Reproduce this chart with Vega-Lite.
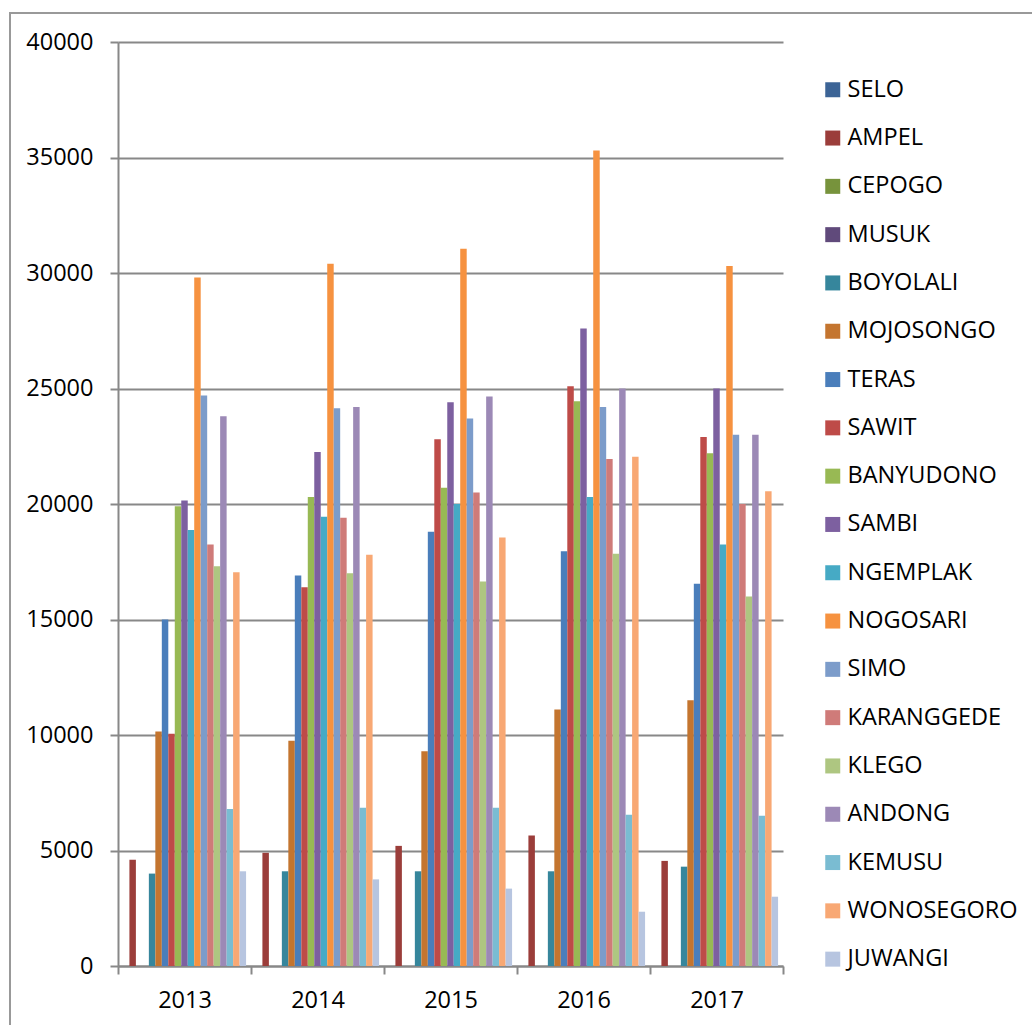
{
  "$schema": "https://vega.github.io/schema/vega-lite/v6.json",
  "autosize": "none",
  "padding": {"left": 10, "top": 13, "right": 0, "bottom": 0},
  "width": 1030,
  "height": 1020,
  "background": "white",
  "config": {
    "view": {"stroke": "#999999", "strokeWidth": 2},
    "font": "Open Sans"
  },
  "data": {
    "values": [
      {"year": "2013", "district": "SELO", "value": 0},
      {"year": "2013", "district": "AMPEL", "value": 4600},
      {"year": "2013", "district": "CEPOGO", "value": 0},
      {"year": "2013", "district": "MUSUK", "value": 0},
      {"year": "2013", "district": "BOYOLALI", "value": 4000},
      {"year": "2013", "district": "MOJOSONGO", "value": 10150},
      {"year": "2013", "district": "TERAS", "value": 15000},
      {"year": "2013", "district": "SAWIT", "value": 10050},
      {"year": "2013", "district": "BANYUDONO", "value": 19900},
      {"year": "2013", "district": "SAMBI", "value": 20150},
      {"year": "2013", "district": "NGEMPLAK", "value": 18870},
      {"year": "2013", "district": "NOGOSARI", "value": 29800},
      {"year": "2013", "district": "SIMO", "value": 24700},
      {"year": "2013", "district": "KARANGGEDE", "value": 18250},
      {"year": "2013", "district": "KLEGO", "value": 17300},
      {"year": "2013", "district": "ANDONG", "value": 23800},
      {"year": "2013", "district": "KEMUSU", "value": 6800},
      {"year": "2013", "district": "WONOSEGORO", "value": 17050},
      {"year": "2013", "district": "JUWANGI", "value": 4100},
      {"year": "2014", "district": "SELO", "value": 0},
      {"year": "2014", "district": "AMPEL", "value": 4900},
      {"year": "2014", "district": "CEPOGO", "value": 0},
      {"year": "2014", "district": "MUSUK", "value": 0},
      {"year": "2014", "district": "BOYOLALI", "value": 4100},
      {"year": "2014", "district": "MOJOSONGO", "value": 9750},
      {"year": "2014", "district": "TERAS", "value": 16900},
      {"year": "2014", "district": "SAWIT", "value": 16400},
      {"year": "2014", "district": "BANYUDONO", "value": 20300},
      {"year": "2014", "district": "SAMBI", "value": 22250},
      {"year": "2014", "district": "NGEMPLAK", "value": 19450},
      {"year": "2014", "district": "NOGOSARI", "value": 30400},
      {"year": "2014", "district": "SIMO", "value": 24150},
      {"year": "2014", "district": "KARANGGEDE", "value": 19400},
      {"year": "2014", "district": "KLEGO", "value": 17000},
      {"year": "2014", "district": "ANDONG", "value": 24200},
      {"year": "2014", "district": "KEMUSU", "value": 6850},
      {"year": "2014", "district": "WONOSEGORO", "value": 17800},
      {"year": "2014", "district": "JUWANGI", "value": 3750},
      {"year": "2015", "district": "SELO", "value": 0},
      {"year": "2015", "district": "AMPEL", "value": 5200},
      {"year": "2015", "district": "CEPOGO", "value": 0},
      {"year": "2015", "district": "MUSUK", "value": 0},
      {"year": "2015", "district": "BOYOLALI", "value": 4100},
      {"year": "2015", "district": "MOJOSONGO", "value": 9300},
      {"year": "2015", "district": "TERAS", "value": 18800},
      {"year": "2015", "district": "SAWIT", "value": 22800},
      {"year": "2015", "district": "BANYUDONO", "value": 20700},
      {"year": "2015", "district": "SAMBI", "value": 24400},
      {"year": "2015", "district": "NGEMPLAK", "value": 20000},
      {"year": "2015", "district": "NOGOSARI", "value": 31050},
      {"year": "2015", "district": "SIMO", "value": 23700},
      {"year": "2015", "district": "KARANGGEDE", "value": 20500},
      {"year": "2015", "district": "KLEGO", "value": 16650},
      {"year": "2015", "district": "ANDONG", "value": 24650},
      {"year": "2015", "district": "KEMUSU", "value": 6850},
      {"year": "2015", "district": "WONOSEGORO", "value": 18550},
      {"year": "2015", "district": "JUWANGI", "value": 3350},
      {"year": "2016", "district": "SELO", "value": 0},
      {"year": "2016", "district": "AMPEL", "value": 5650},
      {"year": "2016", "district": "CEPOGO", "value": 0},
      {"year": "2016", "district": "MUSUK", "value": 0},
      {"year": "2016", "district": "BOYOLALI", "value": 4100},
      {"year": "2016", "district": "MOJOSONGO", "value": 11100},
      {"year": "2016", "district": "TERAS", "value": 17950},
      {"year": "2016", "district": "SAWIT", "value": 25100},
      {"year": "2016", "district": "BANYUDONO", "value": 24450},
      {"year": "2016", "district": "SAMBI", "value": 27600},
      {"year": "2016", "district": "NGEMPLAK", "value": 20300},
      {"year": "2016", "district": "NOGOSARI", "value": 35300},
      {"year": "2016", "district": "SIMO", "value": 24200},
      {"year": "2016", "district": "KARANGGEDE", "value": 21950},
      {"year": "2016", "district": "KLEGO", "value": 17850},
      {"year": "2016", "district": "ANDONG", "value": 25000},
      {"year": "2016", "district": "KEMUSU", "value": 6550},
      {"year": "2016", "district": "WONOSEGORO", "value": 22050},
      {"year": "2016", "district": "JUWANGI", "value": 2350},
      {"year": "2017", "district": "SELO", "value": 0},
      {"year": "2017", "district": "AMPEL", "value": 4550},
      {"year": "2017", "district": "CEPOGO", "value": 0},
      {"year": "2017", "district": "MUSUK", "value": 0},
      {"year": "2017", "district": "BOYOLALI", "value": 4300},
      {"year": "2017", "district": "MOJOSONGO", "value": 11500},
      {"year": "2017", "district": "TERAS", "value": 16550},
      {"year": "2017", "district": "SAWIT", "value": 22900},
      {"year": "2017", "district": "BANYUDONO", "value": 22200},
      {"year": "2017", "district": "SAMBI", "value": 25000},
      {"year": "2017", "district": "NGEMPLAK", "value": 18250},
      {"year": "2017", "district": "NOGOSARI", "value": 30300},
      {"year": "2017", "district": "SIMO", "value": 23000},
      {"year": "2017", "district": "KARANGGEDE", "value": 20000},
      {"year": "2017", "district": "KLEGO", "value": 16000},
      {"year": "2017", "district": "ANDONG", "value": 23000},
      {"year": "2017", "district": "KEMUSU", "value": 6500},
      {"year": "2017", "district": "WONOSEGORO", "value": 20550},
      {"year": "2017", "district": "JUWANGI", "value": 3000}
    ]
  },
  "mark": {"type": "bar"},
  "encoding": {
    "x": {
      "field": "year",
      "type": "nominal",
      "scale": {"range": [108, 773], "paddingInner": 0, "paddingOuter": 0},
      "axis": {
        "title": null,
        "orient": "bottom",
        "offset": -67,
        "labelAngle": 0,
        "labelFontSize": 23.5,
        "labelColor": "#000000",
        "labelPadding": 14,
        "tickBand": "extent",
        "tickSize": 8,
        "tickColor": "#888888",
        "tickWidth": 2,
        "domainColor": "#888888",
        "domainWidth": 2,
        "grid": false
      }
    },
    "xOffset": {
      "field": "district",
      "type": "nominal",
      "sort": ["SELO", "AMPEL", "CEPOGO", "MUSUK", "BOYOLALI", "MOJOSONGO", "TERAS", "SAWIT", "BANYUDONO", "SAMBI", "NGEMPLAK", "NOGOSARI", "SIMO", "KARANGGEDE", "KLEGO", "ANDONG", "KEMUSU", "WONOSEGORO", "JUWANGI"],
      "scale": {"paddingInner": 0, "paddingOuter": 0.76}
    },
    "y": {
      "field": "value",
      "type": "quantitative",
      "scale": {"domain": [0, 40000], "range": [953, 29], "nice": false},
      "axis": {
        "title": null,
        "offset": -108,
        "values": [0, 5000, 10000, 15000, 20000, 25000, 30000, 35000, 40000],
        "format": "d",
        "labelFontSize": 23.5,
        "labelColor": "#000000",
        "labelPadding": 17,
        "tickSize": 8,
        "tickColor": "#888888",
        "tickWidth": 2,
        "domainColor": "#888888",
        "domainWidth": 2,
        "grid": true,
        "gridColor": "#888888",
        "gridWidth": 2
      }
    },
    "color": {
      "field": "district",
      "type": "nominal",
      "scale": {
        "domain": ["SELO", "AMPEL", "CEPOGO", "MUSUK", "BOYOLALI", "MOJOSONGO", "TERAS", "SAWIT", "BANYUDONO", "SAMBI", "NGEMPLAK", "NOGOSARI", "SIMO", "KARANGGEDE", "KLEGO", "ANDONG", "KEMUSU", "WONOSEGORO", "JUWANGI"],
        "range": ["#3C6496", "#9B3D3A", "#77933C", "#604A7B", "#36869C", "#C4752F", "#4A7EBB", "#BE4B48", "#98B954", "#7D60A0", "#46AAC5", "#F69240", "#7C9CCA", "#CF7B79", "#AEC681", "#9C89B6", "#7ABCD2", "#F8A874", "#B7C5E0"]
      },
      "legend": {
        "title": null,
        "orient": "none",
        "legendX": 811,
        "legendY": 65,
        "direction": "vertical",
        "columns": 1,
        "padding": 0,
        "symbolType": "square",
        "symbolSize": 225,
        "symbolStrokeWidth": 0,
        "symbolOpacity": 1,
        "labelFontSize": 23.5,
        "labelColor": "#000000",
        "labelOffset": 3,
        "rowPadding": 23.3,
        "labelLimit": 300
      }
    }
  }
}
